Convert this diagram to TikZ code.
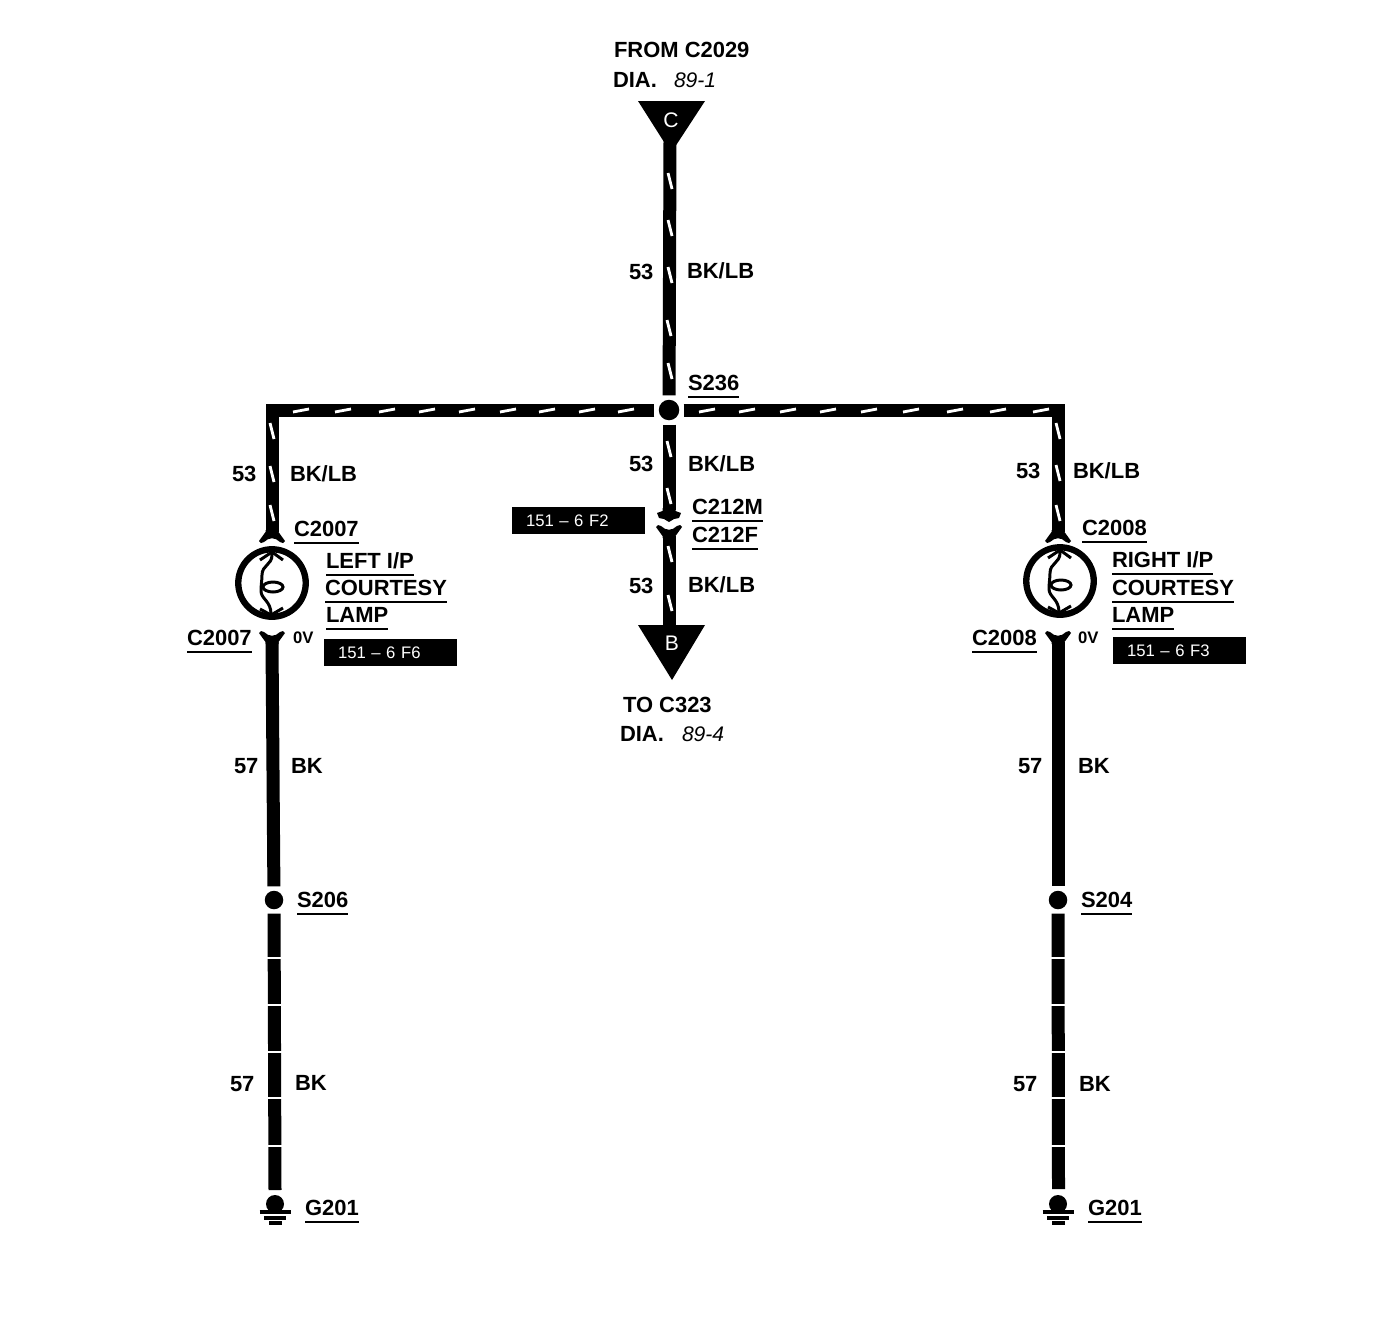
\documentclass[tikz,border=0pt]{standalone}
\usepackage{fontspec}
\setmainfont{Liberation Sans}
\usepackage{tikz}
\usetikzlibrary{positioning,calc}

\begin{document}
\begin{tikzpicture}[
    x=0.02cm, y=-0.02cm,
    lbl/.style={anchor=base west, inner sep=0pt, outer sep=0pt, font=\fontsize{12.5}{14}\selectfont\bfseries},
    ulbl/.style={lbl, text depth=4pt},
    dia/.style={lbl, font=\fontsize{12}{14}\selectfont\itshape},
    volt/.style={lbl, font=\fontsize{9.5}{11}\selectfont\bfseries},
    refbox/.style={anchor=west, fill=black, text=white, inner xsep=0.28cm, inner ysep=0pt, outer sep=0pt, text width=2.1cm, align=left, minimum height=0.54cm, font=\fontsize{9.5}{11}\selectfont},
    letter/.style={text=white, inner sep=0pt, font=\fontsize{12}{14}\selectfont},
    splice/.style={circle, fill=black, inner sep=0pt, minimum size=0.37cm, outer sep=2.5pt},
    lamp/.style={circle, draw, line width=3.6pt, inner sep=0pt, minimum size=1.35cm},
    wire/.style={line width=7.4pt, line join=miter},
    vtick/.style={white, line width=1.6pt},
    htick/.style={white, line width=1.6pt},
    gap/.style={white, line width=1.5pt},
    rule/.style={line width=1.1pt},
    socket/.pic={\fill (-6.5,-2) -- (-6.5,0) -- (-13,9) -- (-11,11) -- (-8,10) .. controls (-3,5) and (3,5) .. (8,10) -- (11,11) -- (13,9) -- (6.5,0) -- (6.5,-2) -- cycle;},
    maletip/.pic={\fill (-6.5,-2) -- (-6.5,1) -- (-12,3) -- (-10,8) -- (-5,9) -- (0,12) -- (5,9) -- (10,8) -- (12,3) -- (6.5,1) -- (6.5,-2) -- cycle;},
    filament/.pic={
        \draw[line width=1.7pt] (-12,-23) -- (0,-31) -- (11,-23);
        \draw[line width=1.7pt] (0,-31) -- (0,-28) .. controls (0,-18) and (-10,-18) .. (-10,-8) .. controls (-10,-3) and (-11,2) .. (-11,8) .. controls (-11,16) and (-1,18) .. (-1,31);
        \draw[line width=1.7pt] (-12,26) -- (-1,32) -- (11,25);
        \draw[line width=1.7pt] (1,4) ellipse [x radius=10, y radius=5];},
    ground/.pic={
        \fill (0,-8) circle [radius=9];
        \draw[line width=1.9pt] (-15.5,0) -- (15.5,0);
        \draw[line width=1.9pt] (-11,6) -- (11,6);
        \draw[line width=1.9pt] (-6,11) -- (7,11);}
]
    \useasboundingbox (0,0) rectangle (1388,1328);

    % end triangles
    \fill (638,101) -- (705,101) -- (671,153) -- cycle;
    \fill (638,625) -- (705,625) -- (672,680) -- cycle;
    \node[letter] (trifrom) at (671,120) {C};
    \node[letter] (trito) at (672,643) {B};
    \coordinate (fromend) at (670,140);
    \coordinate (toend) at (669,632);

    % splices and lamps
    \node[splice, minimum size=0.41cm] (s236) at (669,410) {};
    \node[splice] (s206) at (274,900) {};
    \node[splice] (s204) at (1058,900) {};
    \node[lamp] (lampleft) at (272,583) {};
    \node[lamp] (lampright) at (1060,581) {};
    \pic at (lampleft) {filament};
    \pic at (lampright) {filament};

    % connector ends
    \coordinate (c2007in) at (272,532);
    \coordinate (c2007out) at (272,642);
    \coordinate (c2008in) at (1058,532);
    \coordinate (c2008out) at (1058,642);
    \coordinate (c212m) at (669,510);
    \coordinate (c212f) at (669,536);
    \coordinate (gndleft) at (275,1212);
    \coordinate (gndright) at (1058,1212);
    \coordinate (wireendleft) at (275,1190);
    \coordinate (wireendright) at (1058.5,1189);
    \pic at (c2007in) {socket};
    \pic[yscale=-1] at (c2007out) {socket};
    \pic at (c2008in) {socket};
    \pic[yscale=-1] at (c2008out) {socket};
    \pic at (c212m) {maletip};
    \pic[yscale=-1] at (c212f) {socket};
    \pic at (gndleft) {ground};
    \pic at (gndright) {ground};

    % wires
    \draw[wire] (fromend) -- (s236);
    \draw[wire] (s236) -- (c212m);
    \draw[wire] (c212f) -- (toend);
    \draw[wire] (s236) -| (c2007in);
    \draw[wire] (s236) -| (c2008in);
    \draw[wire] (c2007out) -- (s206);
    \draw[wire] (c2008out) -- (s204);
    \draw[wire] (s206) -- (wireendleft);
    \draw[wire] (s204) -- (wireendright);

    % stripes on the BK/LB wire
    \foreach \x/\y in {670/181, 670/228, 670/275, 669/328, 670/371, 669/449, 669/496, 670/554, 670/603,
                       272/431, 272/474, 272/513, 1058/431, 1058/473, 1058/513}
        \draw[vtick] (\x,\y) ++(-2,-8) -- ++(4,16);
    \foreach \x in {301, 343, 387, 427, 467, 508, 547, 587, 626, 707, 747, 788, 828, 869, 911, 955, 998, 1041}
        \draw[htick] (\x,410.5) ++(-8,1.5) -- ++(16,-3);

    % breaks on the BK wire
    \foreach \y in {958, 1005, 1052, 1098, 1146} {
        \draw[gap] (265,\y) -- (285,\y);
        \draw[gap] (1049,\y) -- (1069,\y);
    }

    % top and middle
    \node[lbl] (fromlbl) at (614,58) {FROM C2029};
    \node[lbl] (diafrom) at (613,88) {DIA.};
    \node[dia] (pagefrom) at (674,88) {89-1};
    \node[lbl] (w53a) at (629,279) {53};
    \node[lbl] (c53a) at (687,278) {BK/LB};
    \node[ulbl] (ls236) at (688,390) {S236};
    \node[lbl] (w53b) at (629,471) {53};
    \node[lbl] (c53b) at (688,471) {BK/LB};
    \node[ulbl] (lc212m) at (692,514) {C212M};
    \node[ulbl] (lc212f) at (692,542) {C212F};
    \node[lbl] (w53c) at (629,593) {53};
    \node[lbl] (c53c) at (688,592) {BK/LB};
    \node[refbox] (refmid) at (512,520.5) {151 -- 6 F2};
    \node[lbl] (tolbl) at (623,712) {TO C323};
    \node[lbl] (diato) at (620,741) {DIA.};
    \node[dia] (pageto) at (682,741) {89-4};

    % left branch
    \node[lbl] (w53l) at (232,481) {53};
    \node[lbl] (c53l) at (290,481) {BK/LB};
    \node[ulbl] (lc2007a) at (294,536) {C2007};
    \node[ulbl] (lleft1) at (326,568) {LEFT I/P};
    \node[ulbl] (lleft2) at (325,595) {COURTESY};
    \node[ulbl] (lleft3) at (326,622) {LAMP};
    \node[ulbl] (lc2007b) at (187,645) {C2007};
    \node[volt] (v0l) at (293,643) {0V};
    \node[refbox] (refleft) at (324,652.5) {151 -- 6 F6};
    \node[lbl] (w57l) at (234,773) {57};
    \node[lbl] (c57l) at (291,773) {BK};
    \node[ulbl] (ls206) at (297,907) {S206};
    \node[lbl] (w57m) at (230,1091) {57};
    \node[lbl] (c57m) at (295,1090) {BK};
    \node[ulbl] (lg201l) at (305,1215) {G201};

    % right branch
    \node[lbl] (w53r) at (1016,478) {53};
    \node[lbl] (c53r) at (1073,478) {BK/LB};
    \node[ulbl] (lc2008a) at (1082,535) {C2008};
    \node[ulbl] (lright1) at (1112,567) {RIGHT I/P};
    \node[ulbl] (lright2) at (1112,595) {COURTESY};
    \node[ulbl] (lright3) at (1112,622) {LAMP};
    \node[ulbl] (lc2008b) at (972,645) {C2008};
    \node[volt] (v0r) at (1078,643) {0V};
    \node[refbox] (refright) at (1113,650.5) {151 -- 6 F3};
    \node[lbl] (w57r) at (1018,773) {57};
    \node[lbl] (c57r) at (1078,773) {BK};
    \node[ulbl] (ls204) at (1081,907) {S204};
    \node[lbl] (w57s) at (1013,1091) {57};
    \node[lbl] (c57s) at (1079,1091) {BK};
    \node[ulbl] (lg201r) at (1088,1215) {G201};

    % underlines
    \foreach \n in {ls236, lc212m, lc212f, lc2007a, lleft1, lleft2, lleft3, lc2007b, ls206, lg201l,
                    lc2008a, lright1, lright2, lright3, lc2008b, ls204, lg201r}
        \draw[rule] (\n.south west) -- (\n.south east);
\end{tikzpicture}
\end{document}
